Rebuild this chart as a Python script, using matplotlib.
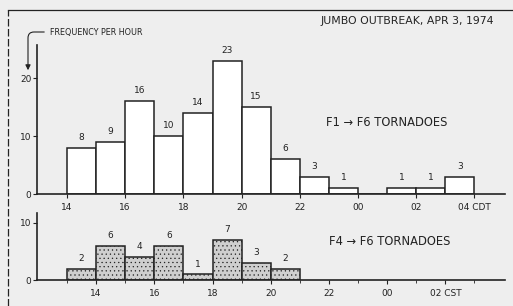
import numpy as np
import matplotlib
matplotlib.use('Agg')
import matplotlib.pyplot as plt

# hours are CDT, 24+ means after midnight
hours_all = [14, 15, 16, 17, 18, 19, 20, 21, 22, 23, 24, 25, 26, 27]
counts_all = [8, 9, 16, 10, 14, 23, 15, 6, 3, 1, 0, 1, 1, 3]

hours_violent = [14, 15, 16, 17, 18, 19, 20, 21]
counts_violent = [2, 6, 4, 6, 1, 7, 3, 2]

top_ticks = [14, 16, 18, 20, 22, 24, 26, 28]
top_labels = ['14', '16', '18', '20', '22', '00', '02', '04 CDT']
bot_ticks = [15, 17, 19, 21, 23, 25, 27]
bot_labels = ['14', '16', '18', '20', '22', '00', '02 CST']

W, H = 513, 306
fig = plt.figure(figsize=(W / 100, H / 100), dpi=100)
fig.patch.set_facecolor('#eeeeee')
ink = '#222222'
plt.rcParams['font.family'] = ['DejaVu Sans']
plt.rcParams['hatch.linewidth'] = 0.4
plt.rcParams['hatch.color'] = '#777777'

xlim = (12.97, 29.05)

ax1 = fig.add_axes([37 / W, 112 / H, 468 / W, 149 / H])
ax2 = fig.add_axes([37 / W, 26 / H, 468 / W, 67 / H])

for ax in (ax1, ax2):
    ax.set_facecolor('none')
    ax.spines['top'].set_visible(False)
    ax.spines['right'].set_visible(False)
    for s in ('left', 'bottom'):
        ax.spines[s].set_linewidth(1.2)
        ax.spines[s].set_color(ink)
    ax.set_xlim(*xlim)
    ax.tick_params(axis='both', labelsize=6.5, colors=ink, length=3, width=0.8)
    ax.tick_params(axis='y', pad=1)

# top panel: all tornadoes
ax1.bar(hours_all, counts_all, width=1.0, align='edge', facecolor='white',
        edgecolor=ink, linewidth=1.1)
for h, c in zip(hours_all, counts_all):
    if c > 0:
        ax1.text(h + 0.5, c + 1.0, str(c), ha='center', va='bottom', fontsize=6.5, color=ink)
ax1.set_ylim(0, 25.7)
ax1.set_yticks([0, 10, 20])
ax1.set_xticks(top_ticks)
ax1.set_xticklabels(top_labels)
ax1.text(22.9, 12.4, 'F1 \u2192 F6 TORNADOES', fontsize=8.3, color=ink, va='center')

# bottom panel: violent tornadoes
bars = ax2.bar(hours_violent, counts_violent, width=1.0, align='edge', facecolor='#cfcfcf',
               edgecolor=ink, linewidth=1.1, hatch='....')
for h, c in zip(hours_violent, counts_violent):
    ax2.text(h + 0.5, c + 1.0, str(c), ha='center', va='bottom', fontsize=6.5, color=ink)
ax2.set_ylim(0, 11.75)
ax2.set_yticks([0, 10])
ax2.set_xticks(bot_ticks)
ax2.set_xticklabels(bot_labels)
ax2.set_xticks(np.arange(14, 29), minor=True)
ax2.tick_params(axis='x', which='minor', length=2, width=0.6, colors=ink)
ax2.text(23.0, 6.7, 'F4 \u2192 F6 TORNADOES', fontsize=8.3, color=ink, va='center')

# title and y label
fig.text(320 / W, 1 - 21 / H, 'JUMBO OUTBREAK, APR 3, 1974', fontsize=7.8, color=ink,
         va='center', ha='left')
fig.text(50 / W, 1 - 32 / H, 'FREQUENCY PER HOUR', fontsize=5.8, color=ink, va='center')
fig.add_artist(matplotlib.patches.FancyArrowPatch(
    (47, H - 32), (28, H - 73), transform=None,
    connectionstyle='angle,angleA=0,angleB=90,rad=6',
    arrowstyle='-|>,head_length=3,head_width=1.5', color=ink, lw=0.8))

# outer frame
fig.add_artist(plt.Line2D([8 / W, 1.0], [1 - 10 / H, 1 - 10 / H], color=ink, lw=0.9,
                          transform=fig.transFigure))
fig.add_artist(plt.Line2D([8 / W, 8 / W], [0, 1 - 10 / H], color=ink, lw=0.9,
                          ls=(0, (6, 2)), transform=fig.transFigure))

fig.savefig('out.png', dpi=100, facecolor=fig.get_facecolor())
